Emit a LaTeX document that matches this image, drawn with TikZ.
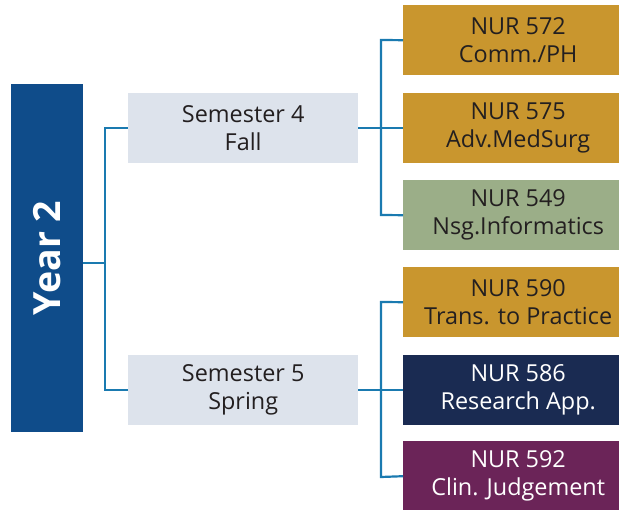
\documentclass[tikz,border=0pt]{standalone}
\usepackage{fontspec}
\setmainfont{Open Sans}
\definecolor{yearblue}{HTML}{0F4C8A}
\definecolor{gold}{HTML}{C9962E}
\definecolor{sage}{HTML}{9BAE88}
\definecolor{navy}{HTML}{1A2B52}
\definecolor{plum}{HTML}{6B2458}
\definecolor{semgray}{HTML}{DDE3EC}
\definecolor{linec}{HTML}{1A7AB0}
\definecolor{txt}{HTML}{231F20}
\begin{document}
\begin{tikzpicture}[x=1pt,y=-1pt,
  box/.style={anchor=north west,inner sep=0pt,align=center,font=\fontsize{23.4}{28}\selectfont,minimum width=230pt,minimum height=70pt},
  conn/.style={draw=linec,line width=2.2pt}]
\useasboundingbox (0,0) rectangle (619,510);
\begin{scope}
\clip (0,0) rectangle (619,510);
\fill[yearblue] (11,84) rectangle (83,432);
\node[text=white,rotate=90,font=\fontsize{37.5}{40}\bfseries] (year) at (47,258) {Year 2};
\coordinate (yr) at (83,263);
% semesters
\node[box,fill=semgray,text=txt] (s4) at (128,93) {Semester 4\\Fall};
\node[box,fill=semgray,text=txt] (s5) at (128,355) {Semester 5\\Spring};
% courses
\node[box,fill=gold,text=txt] (c1) at (403,5) {NUR 572\\Comm./PH};
\node[box,fill=gold,text=txt] (c2) at (403,93) {NUR 575\\Adv.MedSurg};
\node[box,fill=sage,text=txt] (c3) at (403,180) {NUR 549\\Nsg.Informatics};
\node[box,fill=gold,text=txt] (c4) at (403,267) {NUR 590\\Trans. to Practice};
\node[box,fill=navy,text=white] (c5) at (403,355) {NUR 586\\Research App.};
\node[box,fill=plum,text=white] (c6) at (403,441) {NUR 592\\Clin. Judgement};
% connectors
\draw[conn] (yr) -- (105,263) |- (s4.west);
\draw[conn] (105,263) |- (s5.west);
\draw[conn] (s4.east) -- (c2.west);
\draw[conn] (c1.west) -- (381,40) -- (381,215) -- (c3.west);
\draw[conn] (s5.east) -- (c5.west);
\draw[conn] (c4.west) -- (381,302) -- (381,477) -- (c6.west);
\end{scope}
\end{tikzpicture}
\end{document}
